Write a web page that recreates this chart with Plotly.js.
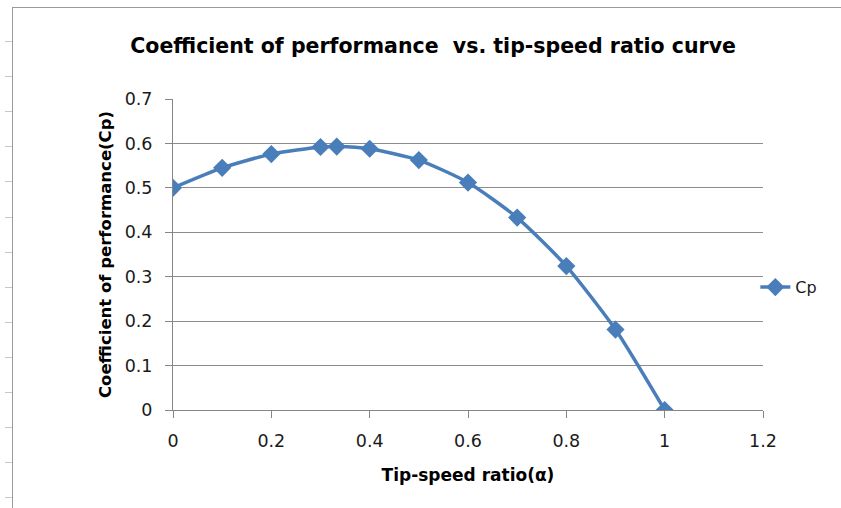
<!DOCTYPE html>
<html>
<head>
<meta charset="utf-8">
<script src="https://cdn.plot.ly/plotly-3.0.1.min.js"></script>
<style>
  html, body { margin: 0; padding: 0; background: #ffffff; }
  #wrap { position: relative; width: 841px; height: 508px; overflow: hidden; background: #fff; }
  #frame { position: absolute; left: 12px; top: 7px; width: 840px; height: 510px;
           border-left: 1.5px solid #9a9a9a; border-top: 1.5px solid #9a9a9a; }
  .rowtick { position: absolute; left: 5px; width: 7px; height: 1px; background: #c8c8c8; }
  #chart { position: absolute; left: 0; top: 0; width: 841px; height: 508px; }
</style>
</head>
<body>
<div id="wrap">
  <div id="frame"></div>
  <div id="chart"></div>
</div>
<script>
const tipSpeedRatio = [0, 0.1, 0.2, 0.3, 0.333, 0.4, 0.5, 0.6, 0.7, 0.8, 0.9, 1.0];
const cpValues = [0.5, 0.545, 0.576, 0.592, 0.593, 0.588, 0.5625, 0.512, 0.433, 0.324, 0.181, 0];
const seriesName = 'Cp';
const chartTitle = 'Coefficient of performance  vs. tip-speed ratio curve';
const xTitle = 'Tip-speed ratio(α)';
const yTitle = 'Coefficient of performance(Cp)';

// decorative spreadsheet row marks on the left edge
const wrap = document.getElementById('wrap');
for (let i = 0; i < 14; i++) {
  const d = document.createElement('div');
  d.className = 'rowtick';
  d.style.top = (41 + i * 35.1) + 'px';
  wrap.appendChild(d);
}

const blue = '#4a7ebb';
const boldFont = 'DejaVu Sans, sans-serif';
const tickFont = 'DejaVu Sans, sans-serif';

const trace = {
  x: tipSpeedRatio, y: cpValues, name: seriesName,
  type: 'scatter', mode: 'lines+markers',
  line: { color: blue, width: 3.5, shape: 'spline', smoothing: 0.6 },
  marker: { symbol: 'diamond', size: 14, color: blue }
};

const layout = {
  width: 841, height: 508,
  paper_bgcolor: 'rgba(0,0,0,0)', plot_bgcolor: 'rgba(0,0,0,0)',
  margin: { l: 173, r: 78, t: 99, b: 98 },
  title: { text: '<b>' + chartTitle + '</b>', x: 0.515, xanchor: 'center', y: 0.91, yanchor: 'middle',
           font: { family: boldFont, size: 20.5, color: '#000' } },
  xaxis: {
    range: [0, 1.2], dtick: 0.2, tick0: 0, showgrid: false, zeroline: false,
    showline: true, linecolor: '#868686', linewidth: 1,
    ticks: 'outside', ticklen: 7, tickcolor: '#868686', ticklabelstandoff: 8,
    tickfont: { family: tickFont, size: 17.5, color: '#1a1a1a' },
    title: { text: '<b>' + xTitle + '</b>', standoff: 19, font: { family: boldFont, size: 17, color: '#000' } }
  },
  yaxis: {
    range: [0, 0.7], dtick: 0.1, tick0: 0, showgrid: true, gridcolor: '#8c8c8c', gridwidth: 1,
    zeroline: false, showline: true, linecolor: '#868686', linewidth: 1,
    ticks: 'outside', ticklen: 7, tickcolor: '#868686', ticklabelstandoff: 9,
    tickfont: { family: tickFont, size: 17.5, color: '#1a1a1a' },
    title: { text: '<b>' + yTitle + '</b>', standoff: 8, font: { family: boldFont, size: 16.5, color: '#000' } }
  },
  showlegend: true,
  legend: { x: 0.987, xanchor: 'left', y: 0.395, yanchor: 'middle',
            font: { family: tickFont, size: 16, color: '#1a1a1a' },
            bgcolor: 'rgba(0,0,0,0)', itemwidth: 30 }
};

Plotly.newPlot('chart', [trace], layout, { displayModeBar: false, staticPlot: true });
</script>
</body>
</html>
